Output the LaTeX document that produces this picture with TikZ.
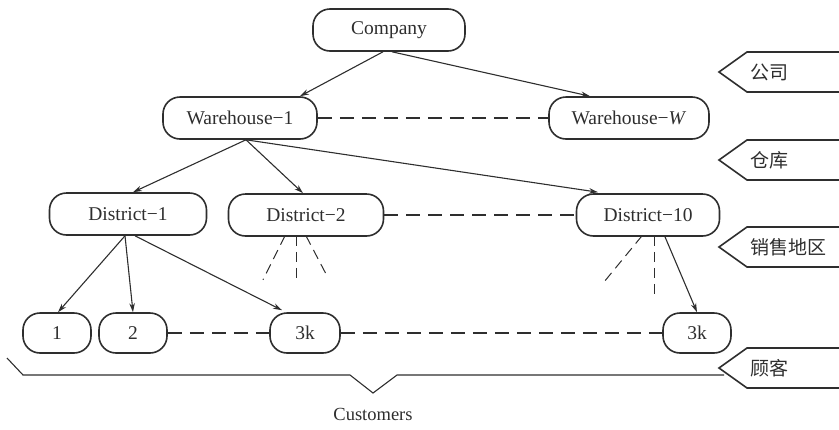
\documentclass[tikz,border=0pt]{standalone}
\usepackage{fontspec}
\setmainfont{Liberation Serif}
\newfontfamily\cjk{Noto Sans CJK SC}
\usetikzlibrary{arrows.meta}
\definecolor{ink}{HTML}{2E2E2E}
\tikzset{
  unit/.style={draw=ink, line width=1.6pt, rounded corners=17pt, minimum height=42pt,
    inner sep=0pt, text=ink, font=\fontsize{19.5}{22}\selectfont},
  arr/.style={draw=ink, line width=1.1pt, -{Stealth[length=9pt,width=5.5pt]}},
  link/.style={draw=ink, line width=1.1pt, dash pattern=on 14pt off 8pt},
  stub/.style={draw=ink, line width=1pt, dash pattern=on 10pt off 6pt},
  tag/.style={draw=ink, line width=1.6pt},
  taglabel/.style={anchor=west, text=ink, font=\cjk\fontsize{19}{21}\selectfont, inner sep=0pt},
}
\begin{document}
\begin{tikzpicture}[x=1pt, y=-1pt]
\useasboundingbox (0,0) rectangle (839,429);

% hierarchy levels
\node[unit, minimum width=152pt] (company) at (389,30) {Company};
\node[unit, minimum width=154pt] (wh1) at (240,118) {Warehouse−1};
\node[unit, minimum width=160pt] (whW) at (629,118) {Warehouse−\textit{W}};
\node[unit, minimum width=157pt] (d1) at (128,214) {District−1};
\node[unit, minimum width=155pt] (d2) at (306,215) {District−2};
\node[unit, minimum width=143pt] (d10) at (648,215) {District−10};
\node[unit, minimum width=68pt, minimum height=40pt] (c1) at (57,333) {1};
\node[unit, minimum width=68pt, minimum height=40pt] (c2) at (133,333) {2};
\node[unit, minimum width=70pt, minimum height=40pt] (c3k) at (305,333) {3k};
\node[unit, minimum width=68pt, minimum height=40pt] (r3k) at (697,333) {3k};

% tree connectors
\draw[arr] ([xshift=-6pt]company.south) -- ([xshift=60pt]wh1.north);
\draw[arr] ([xshift=3pt]company.south) -- ([xshift=-39pt]whW.north);
\draw[arr] ([xshift=6pt]wh1.south) -- ([xshift=5pt]d1.north);
\draw[arr] ([xshift=6pt]wh1.south) -- ([xshift=-3pt]d2.north);
\draw[arr] ([xshift=6pt]wh1.south) -- ([xshift=-50pt,yshift=1pt]d10.north);
\draw[arr] ([xshift=-3pt]d1.south) -- ([xshift=1pt]c1.north);
\draw[arr] ([xshift=-3pt]d1.south) -- (c2.north);
\draw[arr] ([xshift=7pt]d1.south) -- ([xshift=-23pt,yshift=2pt]c3k.north);
\draw[arr] ([xshift=17pt]d10.south) -- (r3k.north);

% dashed links between siblings
\draw[link] (wh1.east) -- (whW.west);
\draw[link] (d2.east) -- (d10.west);
\draw[link] (c2.east) -- (c3k.west);
\draw[link] (c3k.east) -- (r3k.west);

% open branches
\draw[stub] ([xshift=-21pt,yshift=1pt]d2.south) -- ++(-22,44);
\draw[stub] ([xshift=-10pt,yshift=1pt]d2.south) -- ++(0,45);
\draw[stub] ([yshift=1pt]d2.south) -- ++(22,42);
\draw[stub] ([xshift=-6pt,yshift=1pt]d10.south) -- ++(-37,45);
\draw[stub] ([xshift=6pt,yshift=1pt]d10.south) -- ++(0,58);

% brace under the customers
\draw[draw=ink, line width=1.1pt] (7,358) -- (23,375) -- (350,375) -- (373,393) -- (397,375) -- (724,375);
\node[text=ink, font=\fontsize{18.5}{20}\selectfont] (cust) at (373,414) {Customers};

% level tags
\foreach \y/\t/\n in {72/公司/tcompany, 160/仓库/twarehouse, 247/销售地区/tdistrict, 368/顾客/tcustomer}{
  \draw[tag] (842,\y-20) -- (747,\y-20) -- (719,\y) -- (747,\y+20) -- (842,\y+20);
  \node[taglabel] (\n) at (750,\y) {\t};
}
\end{tikzpicture}
\end{document}
